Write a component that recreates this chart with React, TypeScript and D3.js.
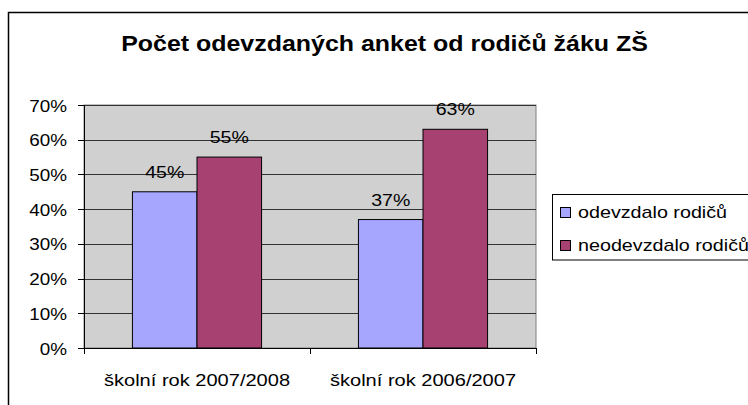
import React from "react";
import * as d3 from "d3";

const categories = ["školní rok 2007/2008", "školní rok 2006/2007"];
const seriesNames = ["odevzdalo rodičů", "neodevzdalo rodičů"];
const odevzdalo = [45, 37];
const neodevzdalo = [55, 63];
const yTicks = [0, 10, 20, 30, 40, 50, 60, 70];
const title = "Počet odevzdaných anket od rodičů žáku ZŠ";

const colors = ["#A6A6FF", "#A64172"];
const font = "Arial, 'Liberation Sans', sans-serif";

function T(props: {
  x: number; y: number; sx: number; size: number; anchor?: string; bold?: boolean; children: React.ReactNode;
}) {
  const { x, y, sx, size, anchor = "start", bold = false, children } = props;
  return (
    <text
      transform={`translate(${x},${y}) scale(${sx},1)`}
      textAnchor={anchor as any}
      fontFamily={font}
      fontSize={size}
      fontWeight={bold ? "bold" : "normal"}
      fill="#000"
    >
      {children}
    </text>
  );
}

export default function App() {
  const W = 748, H = 405;
  const plot = { left: 84, right: 536, top: 105, bottom: 348 };
  const y = d3.scaleLinear().domain([0, 70]).range([plot.bottom, plot.top]);
  const x0 = d3.scaleBand().domain(categories).range([plot.left, plot.right]).paddingInner(0).paddingOuter(0);
  const catW = x0.bandwidth();
  const barW = catW / 3.5;
  const series = [odevzdalo, neodevzdalo];

  return (
    <svg width={W} height={H} style={{ position: "absolute", left: 0, top: 0 }}>
      <rect x={0} y={0} width={W} height={H} fill="#fff" />
      <rect x={8.5} y={12.5} width={W} height={H} fill="#fff" stroke="#000" strokeWidth={1.5} />
      <T x={384.5} y={51} sx={1.134} size={22} anchor="middle" bold>
        {title}
      </T>
      <rect x={plot.left} y={plot.top} width={plot.right - plot.left} height={plot.bottom - plot.top} fill="#D0D0D0" stroke="#808080" strokeWidth={1} />
      {yTicks.map((t) => (
        <g key={t}>
          {t > 0 && (
            <line x1={plot.left} x2={plot.right} y1={Math.round(y(t)) + 0.5} y2={Math.round(y(t)) + 0.5} stroke="#333" strokeWidth={1} />
          )}
          <line x1={plot.left - 6} x2={plot.left} y1={Math.round(y(t)) + 0.5} y2={Math.round(y(t)) + 0.5} stroke="#000" />
          <T x={67} y={y(t) + 6.5} sx={1.11} size={17} anchor="end">
            {t}%
          </T>
        </g>
      ))}
      {series.map((vals, si) =>
        categories.map((c, ci) => {
          const bx = (x0(c) as number) + barW * 0.75 + si * barW;
          const v = vals[ci];
          return (
            <g key={`${si}-${ci}`}>
              <rect x={bx} y={y(v)} width={barW} height={plot.bottom - y(v)} fill={colors[si]} stroke="#000" strokeWidth={1} />
              <T x={bx + barW / 2} y={y(v) - 14} sx={1.15} size={17} anchor="middle">
                {v}%
              </T>
            </g>
          );
        })
      )}
      <line x1={plot.left + 0.5} x2={plot.left + 0.5} y1={plot.top} y2={plot.bottom + 6} stroke="#000" />
      <line x1={plot.left} x2={plot.right} y1={plot.bottom + 0.5} y2={plot.bottom + 0.5} stroke="#000" />
      {[0, 1, 2].map((i) => {
        const xx = Math.round(plot.left + i * catW) + 0.5;
        return <line key={i} x1={xx} x2={xx} y1={plot.bottom} y2={plot.bottom + 6} stroke="#000" />;
      })}
      {categories.map((c) => (
        <T key={c} x={(x0(c) as number) + catW / 2} y={385.5} sx={1.18} size={17} anchor="middle">
          {c}
        </T>
      ))}
      <rect x={552.5} y={194.5} width={W} height={65.5} fill="#fff" stroke="#000" strokeWidth={1} />
      {seriesNames.map((n, i) => (
        <g key={n}>
          <rect x={560.5} y={207.5 + i * 33} width={10} height={10} fill={colors[i]} stroke="#000" strokeWidth={1} />
          <T x={578} y={217.5 + i * 33} sx={1.16} size={17}>
            {n}
          </T>
        </g>
      ))}
    </svg>
  );
}
